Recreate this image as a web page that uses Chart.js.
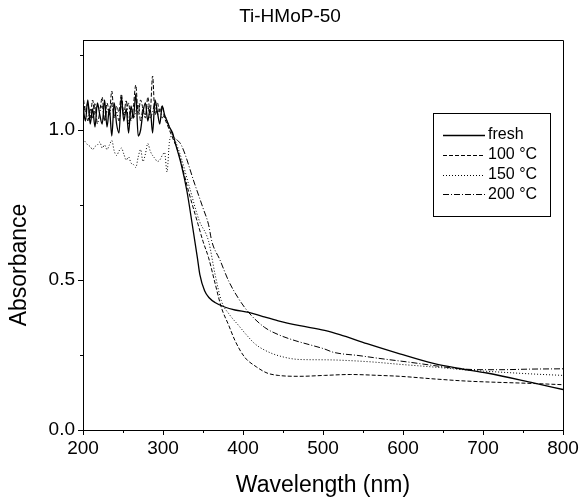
<!DOCTYPE html>
<html>
<head>
<meta charset="utf-8">
<script src="https://cdn.jsdelivr.net/npm/chart.js@4.4.1/dist/chart.umd.min.js"></script>
<style>
html,body{margin:0;padding:0;background:#fff;}
#wrap{width:581px;height:500px;}
</style>
</head>
<body>
<div id="wrap"><canvas id="c" width="581" height="500"></canvas></div>
<script>
// ---- data ----
const chartTitle = "Ti-HMoP-50";
const xTitle = "Wavelength (nm)";
const yTitle = "Absorbance";
const seriesNames = ["fresh", "100 °C", "150 °C", "200 °C"];
const xTicks = [200, 300, 400, 500, 600, 700, 800];
const yTicks = [0.0, 0.5, 1.0];

const noiseNm = [200,203,206,209,212,215,218,221,224,227,230,233,236,239,242,245,248,251,254,257,260,263,266,269,272,275,278,281,284,287,290,293,296,299,302,305,308];

const freshNoise = [1.08,1.03,1.10,1.02,1.07,1.01,1.09,1.05,1.02,1.10,1.01,1.07,0.98,1.09,1.02,0.99,1.11,1.03,1.07,0.99,1.08,1.04,1.12,0.98,1.00,1.06,1.09,1.03,1.07,0.99,1.10,1.06,1.02,1.08,1.05,1.03,1.01];
const freshNm  = [312,315,323,330,336,343,346,352,358,365,377,390,407,425,444,471,502,521,555,596,638,671,705,763,800];
const freshAbs = [0.99,0.96,0.883,0.795,0.695,0.574,0.519,0.464,0.44,0.425,0.41,0.40,0.392,0.378,0.364,0.348,0.332,0.318,0.288,0.254,0.222,0.205,0.19,0.157,0.135];

const t100Noise = [1.12,1.06,1.09,1.04,1.10,1.05,1.08,1.07,1.11,1.03,1.09,1.06,1.13,1.04,1.08,1.06,1.12,1.05,1.06,1.09,1.03,1.08,1.15,1.05,1.10,1.07,1.04,1.11,1.06,1.18,1.05,1.09,1.06,1.08,1.04,1.02,1.00];
const t100Nm  = [311,319,332,344,350,357,365,373,382,390,402,417,430,444,471,502,534,570,596,640,680,763,800];
const t100Abs = [0.98,0.927,0.795,0.684,0.629,0.574,0.49,0.408,0.35,0.298,0.243,0.21,0.19,0.182,0.179,0.182,0.185,0.182,0.179,0.17,0.163,0.155,0.151];

const t150Noise = [0.97,0.96,0.95,0.945,0.935,0.945,0.95,0.96,0.94,0.95,0.935,0.95,0.965,0.93,0.915,0.93,0.94,0.92,0.90,0.91,0.89,0.885,0.875,0.91,0.935,0.895,0.92,0.955,0.93,0.915,0.905,0.895,0.90,0.915,0.925,0.86,0.96];
const t150Nm  = [311,320,333,345,357,365,373,383,394,405,415,428,444,471,502,555,600,638,680,721,760,800];
const t150Abs = [0.98,0.93,0.81,0.70,0.629,0.52,0.43,0.385,0.35,0.315,0.287,0.265,0.248,0.235,0.234,0.228,0.218,0.21,0.20,0.193,0.187,0.182];

const t200Noise = [1.05,1.08,1.03,1.07,1.04,1.09,1.02,1.06,1.08,1.03,1.07,1.05,1.09,1.04,1.06,1.03,1.08,1.05,1.10,1.02,1.07,1.04,1.06,1.09,1.03,1.07,1.05,1.08,1.04,1.06,1.09,1.05,1.07,1.04,1.05,1.03,1.01];
const t200Nm  = [313,323,340,350,357,361,371,382,394,407,427,445,465,485,502,513,545,575,608,638,671,700,721,760,800];
const t200Abs = [0.98,0.949,0.817,0.74,0.684,0.629,0.568,0.497,0.44,0.392,0.342,0.317,0.298,0.283,0.27,0.259,0.248,0.237,0.226,0.215,0.204,0.201,0.201,0.203,0.204];

// ---- build point lists ----
function pts(noise, nm, abs) {
  const out = noiseNm.map((x, i) => ({x: x, y: noise[i]}));
  nm.forEach((x, i) => out.push({x: x, y: abs[i]}));
  return out;
}
const styles = [
  {dash: [], width: 1.3},
  {dash: [4, 2], width: 1},
  {dash: [1, 2], width: 1},
  {dash: [6, 2, 1, 2], width: 1}
];
const allData = [
  pts(freshNoise, freshNm, freshAbs),
  pts(t100Noise, t100Nm, t100Abs),
  pts(t150Noise, t150Nm, t150Abs),
  pts(t200Noise, t200Nm, t200Abs)
];
const datasets = seriesNames.map((n, i) => ({
  label: n,
  data: allData[i],
  borderColor: '#000',
  borderWidth: styles[i].width,
  borderDash: styles[i].dash,
  pointRadius: 0,
  fill: false,
  cubicInterpolationMode: 'monotone'
}));

const FONT = "'Liberation Sans', Arial, sans-serif";

const framePlugin = {
  id: 'frame',
  afterDraw(chart) {
    const ctx = chart.ctx, a = chart.chartArea;
    const xs = chart.scales.x, ys = chart.scales.y;
    ctx.save();
    ctx.strokeStyle = '#000';
    ctx.fillStyle = '#000';
    ctx.lineWidth = 1;
    ctx.setLineDash([]);
    // top and right frame
    ctx.beginPath();
    ctx.moveTo(Math.round(a.left) + 0.5, Math.round(a.top) + 0.5);
    ctx.lineTo(Math.round(a.right) + 0.5, Math.round(a.top) + 0.5);
    ctx.lineTo(Math.round(a.right) + 0.5, Math.round(a.bottom) + 0.5);
    ctx.stroke();
    // minor ticks
    ctx.beginPath();
    for (let v = 250; v < 800; v += 100) {
      const px = Math.round(xs.getPixelForValue(v)) + 0.5;
      ctx.moveTo(px, a.bottom); ctx.lineTo(px, a.bottom + 3);
    }
    [0.25, 0.75, 1.25].forEach(v => {
      const py = Math.round(ys.getPixelForValue(v)) + 0.5;
      ctx.moveTo(a.left, py); ctx.lineTo(a.left - 3, py);
    });
    ctx.stroke();
    // title
    ctx.textAlign = 'center';
    ctx.textBaseline = 'middle';
    ctx.font = "19px " + FONT;
    ctx.fillText(chartTitle, 290, 17);
    // y axis title
    ctx.save();
    ctx.translate(20, 265);
    ctx.rotate(-Math.PI / 2);
    ctx.font = "23px " + FONT;
    ctx.fillText(yTitle, 0, 0);
    ctx.restore();
    // legend
    const lx = a.left + 350, ly = 113, lw = 117, lh = 103;
    ctx.strokeRect(Math.round(lx) + 0.5, ly + 0.5, lw, lh);
    ctx.font = "16px " + FONT;
    ctx.textAlign = 'left';
    seriesNames.forEach((n, i) => {
      const y = 135 + i * 19.8;
      ctx.beginPath();
      ctx.setLineDash(styles[i].dash);
      ctx.lineWidth = styles[i].width;
      ctx.moveTo(lx + 10, Math.round(y) + 0.5);
      ctx.lineTo(lx + 52, Math.round(y) + 0.5);
      ctx.stroke();
      ctx.setLineDash([]);
      ctx.fillText(n, lx + 55, y);
    });
    ctx.restore();
  }
};

new Chart(document.getElementById('c'), {
  type: 'line',
  data: {datasets: datasets},
  plugins: [framePlugin],
  options: {
    responsive: false,
    animation: false,
    layout: {padding: {left: 0, right: 18, top: 40, bottom: 0}},
    plugins: {
      legend: {display: false},
      tooltip: {enabled: false},
      title: {display: false}
    },
    scales: {
      x: {
        type: 'linear',
        min: 200, max: 800,
        afterBuildTicks(s) { s.ticks = xTicks.map(v => ({value: v})); },
        afterFit(s) { s.height = 70; },
        ticks: {color: '#000', font: {family: FONT, size: 19}, padding: 2, maxRotation: 0,
                callback: v => String(v)},
        grid: {display: true, drawOnChartArea: false, drawTicks: true, tickLength: 5, color: '#000'},
        border: {display: true, color: '#000', width: 1},
        title: {display: true, text: xTitle, color: '#000',
                font: {family: FONT, size: 23}, padding: {top: 4, bottom: 1}}
      },
      y: {
        type: 'linear',
        min: 0, max: 1.3,
        afterBuildTicks(s) { s.ticks = yTicks.map(v => ({value: v})); },
        afterFit(s) { s.width = 83; },
        ticks: {color: '#000', font: {family: FONT, size: 19}, padding: 3,
                callback: v => v.toFixed(1)},
        grid: {display: true, drawOnChartArea: false, drawTicks: true, tickLength: 5, color: '#000'},
        border: {display: true, color: '#000', width: 1}
      }
    }
  }
});
</script>
</body>
</html>
